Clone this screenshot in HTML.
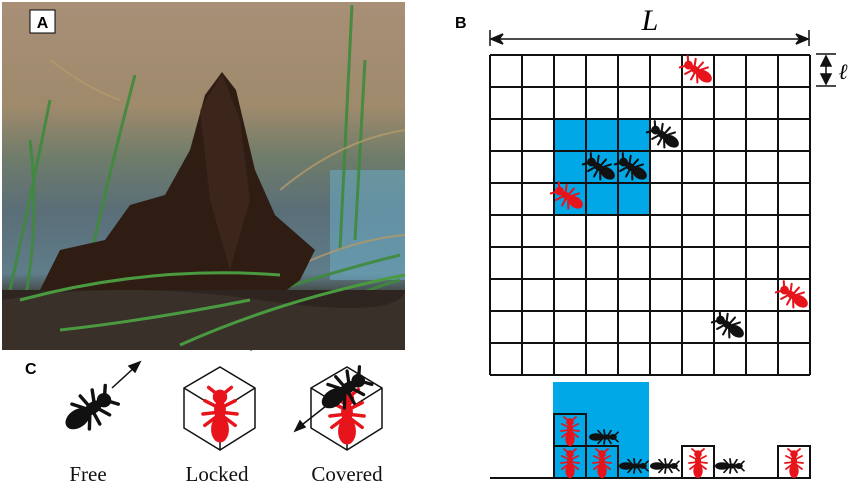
<!DOCTYPE html>
<html><head><meta charset="utf-8"><style>
html,body{margin:0;padding:0;background:#fff;}
svg{display:block;}
</style></head><body>
<svg width="850" height="485" viewBox="0 0 850 485" xmlns="http://www.w3.org/2000/svg">
<defs>
 <g id="ant">
  <g stroke-width="1.8" stroke-linecap="round">
   <line x1="-3" y1="0" x2="-7" y2="-8"/><line x1="-3" y1="0" x2="-7" y2="8"/>
   <line x1="-1" y1="0" x2="0" y2="-9"/><line x1="-1" y1="0" x2="0" y2="9"/>
   <line x1="0" y1="0" x2="6" y2="-8"/><line x1="0" y1="0" x2="6" y2="8"/>
   <line x1="-10" y1="-1" x2="-14" y2="-6"/><line x1="-10" y1="1" x2="-14" y2="6"/>
  </g>
  <circle cx="-9" cy="0" r="3.3"/>
  <ellipse cx="-2" cy="0" rx="4.5" ry="2.6"/>
  <ellipse cx="8" cy="0" rx="6.5" ry="4.2"/>
 </g>
 <linearGradient id="sky" x1="0" y1="0" x2="0" y2="1">
  <stop offset="0" stop-color="#a88f77"/><stop offset="0.3" stop-color="#9f8a6c"/>
  <stop offset="0.45" stop-color="#6e7c6a"/><stop offset="0.6" stop-color="#5a6e78"/>
  <stop offset="0.78" stop-color="#5f7d8a"/><stop offset="0.85" stop-color="#3b3a32"/>
  <stop offset="1" stop-color="#2e2620"/>
 </linearGradient>
</defs>

<rect x="2" y="2" width="403" height="348" fill="url(#sky)"/>
<rect x="330" y="170" width="75" height="110" fill="#6aa9c0" opacity="0.6"/>
<g stroke="#3f8a3c" stroke-width="3" fill="none" opacity="0.9">
 <path d="M10 290 Q30 200 50 100"/><path d="M25 300 Q40 220 30 140"/><path d="M90 260 Q110 170 135 75"/>
 <path d="M340 250 Q345 150 352 5"/><path d="M355 240 Q360 150 365 60"/>
 <path d="M60 300 Q200 250 300 270"/><path d="M150 340 Q260 290 400 255"/><path d="M250 350 Q330 300 400 280"/>
</g>
<g stroke="#b39a6a" stroke-width="2" fill="none" opacity="0.8">
 <path d="M50 60 Q90 90 120 100"/><path d="M280 190 Q340 140 405 130"/><path d="M290 270 Q350 240 405 235"/>
</g>
<path d="M40 290 L60 250 L105 240 L130 205 L165 195 L190 150 L205 95 L222 72 L236 90 L255 170 L275 215 L315 250 L300 280 L260 310 L60 300 Z" fill="#2f1d14"/>
<path d="M200 110 L222 74 L240 120 L250 200 L230 270 L210 200 Z" fill="#4a2e20" opacity="0.5"/>
<rect x="2" y="290" width="403" height="60" fill="#2e2520"/>
<path d="M2 300 Q120 280 260 300 T405 290 L405 350 L2 350 Z" fill="#3a302a"/>
<g stroke="#4a9a40" stroke-width="3" fill="none">
 <path d="M20 300 Q150 265 280 275"/><path d="M180 345 Q280 300 405 275"/><path d="M60 330 Q150 320 250 300"/>
</g>
<rect x="30" y="10" width="25" height="23" fill="#fff" stroke="#000" stroke-width="1"/>
<text x="42.5" y="28" font-family="Liberation Sans, sans-serif" font-weight="bold" font-size="16" text-anchor="middle">A</text>

<text x="455" y="28" font-family="Liberation Sans, sans-serif" font-weight="bold" font-size="16">B</text>
<text x="650" y="30" font-family="Liberation Serif, serif" font-style="italic" font-size="30" text-anchor="middle">L</text>
<g stroke="#111" stroke-width="1.5" fill="#111">
 <line x1="490" y1="30" x2="490" y2="46"/><line x1="809" y1="30" x2="809" y2="46"/>
 <line x1="493" y1="39" x2="806" y2="39"/>
 <path d="M491 39 L503 34 L499 39 L503 44 Z"/><path d="M808 39 L796 34 L800 39 L796 44 Z"/>
 <line x1="816" y1="54" x2="836" y2="54"/><line x1="816" y1="86" x2="836" y2="86"/>
 <line x1="826" y1="58" x2="826" y2="82"/>
 <path d="M826 56 L821 66 L831 66 Z"/><path d="M826 84 L821 74 L831 74 Z"/>
</g>
<text x="843" y="79" font-family="Liberation Serif, serif" font-style="italic" font-size="22" text-anchor="middle">ℓ</text>

<rect x="554" y="119" width="96" height="96" fill="#00a8e8"/>
<g stroke="#111" stroke-width="2">
 <line x1="490" y1="55" x2="810" y2="55"/><line x1="490" y1="87" x2="810" y2="87"/>
 <line x1="490" y1="119" x2="810" y2="119"/><line x1="490" y1="151" x2="810" y2="151"/>
 <line x1="490" y1="183" x2="810" y2="183"/><line x1="490" y1="215" x2="810" y2="215"/>
 <line x1="490" y1="247" x2="810" y2="247"/><line x1="490" y1="279" x2="810" y2="279"/>
 <line x1="490" y1="311" x2="810" y2="311"/><line x1="490" y1="343" x2="810" y2="343"/>
 <line x1="490" y1="375" x2="810" y2="375"/>
 <line x1="490" y1="55" x2="490" y2="375"/><line x1="522" y1="55" x2="522" y2="375"/>
 <line x1="554" y1="55" x2="554" y2="375"/><line x1="586" y1="55" x2="586" y2="375"/>
 <line x1="618" y1="55" x2="618" y2="375"/><line x1="650" y1="55" x2="650" y2="375"/>
 <line x1="682" y1="55" x2="682" y2="375"/><line x1="714" y1="55" x2="714" y2="375"/>
 <line x1="746" y1="55" x2="746" y2="375"/><line x1="778" y1="55" x2="778" y2="375"/>
 <line x1="810" y1="55" x2="810" y2="375"/>
</g>
<g fill="#e8141c" stroke="#e8141c"><use href="#ant" transform="translate(697,71) rotate(35) scale(1.15)"/><use href="#ant" transform="translate(568,197) rotate(35) scale(1.15)"/><use href="#ant" transform="translate(793,296) rotate(35) scale(1.15)"/></g>
<g fill="#111" stroke="#111"><use href="#ant" transform="translate(664,136) rotate(35) scale(1.15)"/><use href="#ant" transform="translate(600,168) rotate(35) scale(1.15)"/><use href="#ant" transform="translate(632,168) rotate(35) scale(1.15)"/><use href="#ant" transform="translate(729,326) rotate(35) scale(1.15)"/></g>

<rect x="553" y="382" width="96" height="96" fill="#00a8e8"/>
<g stroke="#111" stroke-width="2" fill="none">
 <rect x="554" y="414" width="32" height="32"/><rect x="554" y="446" width="32" height="32"/>
 <rect x="586" y="446" width="32" height="32"/><rect x="682" y="446" width="32" height="32" fill="#fff"/>
 <rect x="778" y="446" width="32" height="32" fill="#fff"/>
 <line x1="490" y1="478" x2="810" y2="478"/>
</g>
<g fill="#e8141c" stroke="#e8141c">
 <use href="#ant" transform="translate(570,431) rotate(90) scale(1)"/><use href="#ant" transform="translate(570,463) rotate(90) scale(1)"/>
 <use href="#ant" transform="translate(602,463) rotate(90) scale(1)"/><use href="#ant" transform="translate(698,463) rotate(90) scale(1)"/>
 <use href="#ant" transform="translate(794,463) rotate(90) scale(1)"/>
</g>
<g fill="#111" stroke="#111">
 <use href="#ant" transform="translate(604,437) rotate(180) scale(1,0.8)"/><use href="#ant" transform="translate(634,466) rotate(180) scale(1,0.8)"/>
 <use href="#ant" transform="translate(665,466) rotate(180) scale(1,0.8)"/><use href="#ant" transform="translate(730,466) rotate(180) scale(1,0.8)"/>
</g>

<text x="25" y="374" font-family="Liberation Sans, sans-serif" font-weight="bold" font-size="16">C</text>
<g fill="#111" stroke="#111"><use href="#ant" transform="translate(90,410) rotate(145) scale(1.9)"/></g>
<g stroke="#111" stroke-width="1.5" fill="#111">
 <line x1="112" y1="388" x2="136" y2="366"/><path d="M140 362 L129 366 L135 372 Z"/>
 <line x1="326" y1="406" x2="298" y2="428"/><path d="M295 431 L300 421 L305 427 Z"/>
</g>
<g stroke="#111" stroke-width="1.5" fill="none">
 <path d="M220 367 L255 388 L255 428 L220 450 L184 428 L184 388 Z M184 388 L220 410 L255 388 M220 410 L220 450"/>
 <path d="M347 367 L382 388 L382 428 L347 450 L311 428 L311 388 Z M311 388 L347 410 L382 388 M347 410 L347 450"/>
</g>
<g fill="#e8141c" stroke="#e8141c">
 <use href="#ant" transform="translate(220,414) rotate(90) scale(1.9)"/>
 <use href="#ant" transform="translate(347,416) rotate(90) scale(1.9)"/>
</g>
<g fill="#111" stroke="#111"><use href="#ant" transform="translate(345,390) rotate(145) scale(1.8)"/></g>
<g font-family="Liberation Serif, serif" font-size="21" text-anchor="middle" fill="#111">
 <text x="88" y="481">Free</text><text x="217" y="481">Locked</text><text x="347" y="481">Covered</text>
</g>
</svg>
</body></html>
